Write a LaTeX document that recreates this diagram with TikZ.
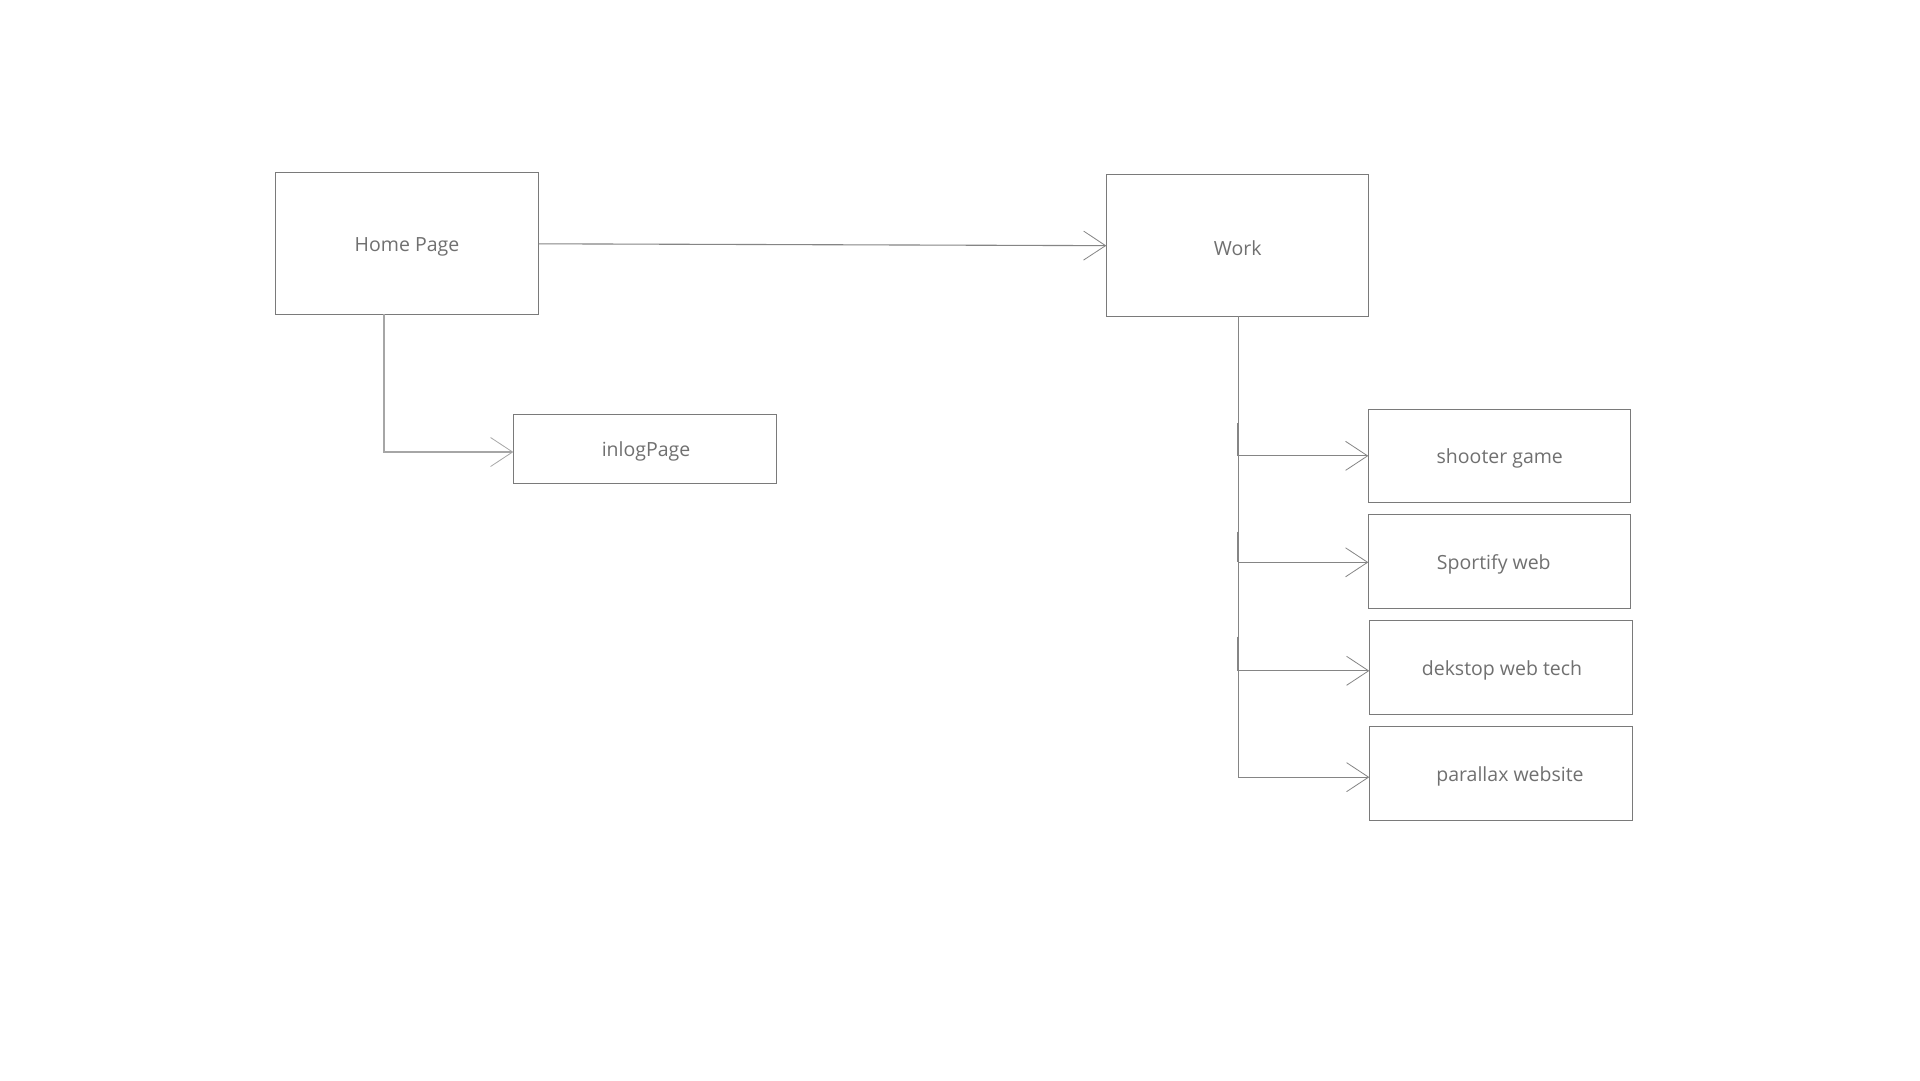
\documentclass[tikz,border=0pt]{standalone}
\usepackage{fontspec}
\setmainfont{Open Sans}
\usetikzlibrary{arrows.meta}
\definecolor{boxc}{HTML}{7A7A7A}
\definecolor{txtc}{HTML}{707070}
\definecolor{linec}{HTML}{858585}
\definecolor{lightc}{HTML}{A6A6A6}
\tikzset{
  pagebox/.style={draw=boxc, line width=1pt, fill=white, inner sep=0pt, anchor=north west},
  lbl/.style={text=txtc, font=\fontsize{19.5}{22}\selectfont, inner sep=0pt},
  conn/.style={draw=linec, line width=1.1pt, -{Straight Barb[length=22pt,width=29pt,line width=0.8pt]}},
  stub/.style={draw=linec, line width=1.1pt}
}
\begin{document}
\begin{tikzpicture}[x=1pt,y=-1pt]
\useasboundingbox[fill=white] (0,0) rectangle (1920,1080);
% boxes
\node[pagebox, minimum width=262.4pt, minimum height=142pt] (home) at (275.3,172.3) {};
\node[pagebox, minimum width=262pt, minimum height=141.7pt] (work) at (1106.3,174.3) {};
\node[pagebox, minimum width=262.4pt, minimum height=69.3pt] (inlog) at (513.3,413.7) {};
\node[pagebox, minimum width=262pt, minimum height=93.3pt] (shoot) at (1368.3,408.7) {};
\node[pagebox, minimum width=262pt, minimum height=94pt] (sport) at (1368.3,514.3) {};
\node[pagebox, minimum width=262.4pt, minimum height=94pt] (desk) at (1369.3,620.3) {};
\node[pagebox, minimum width=262.4pt, minimum height=93.7pt] (para) at (1369.3,726.3) {};
% labels
\node[lbl] (homel) at ([yshift=-3pt]home.center) {Home Page};
\node[lbl] (workl) at ([yshift=-3pt]work.center) {Work};
\node[lbl] (inlogl) at ([xshift=1pt,yshift=-3pt]inlog.center) {inlogPage};
\node[lbl] (shootl) at ([yshift=-3pt]shoot.center) {shooter game};
\node[lbl] (sportl) at ([xshift=-6pt,yshift=-3pt]sport.center) {Sportify web};
\node[lbl] (deskl) at ([xshift=1pt,yshift=-3pt]desk.center) {dekstop web tech};
\node[lbl] (paral) at ([xshift=9pt,yshift=-3pt]para.center) {parallax website};
% connectors
\draw[conn] (home.east) -- (work.west);
\coordinate (hb) at (384,314.3);
\draw[conn, draw=lightc] (hb) |- (inlog.west |- 0,452);
\coordinate (wb) at (1238.5,316);
\draw[conn] (wb) |- (shoot.west);
\draw[conn] (wb) |- ([yshift=-0.5pt]sport.west);
\draw[conn] (wb) |- ([yshift=-3pt]desk.west);
\draw[conn] (wb) |- ([yshift=-3.5pt]para.west);
\coordinate (s1) at (1237.3,423);
\coordinate (s2) at (1237.3,531.7);
\coordinate (s3) at (1237.3,636.7);
\draw[stub] (s1) -- (s1 |- shoot.west);
\draw[stub] (s2) -- ([yshift=-0.5pt]s2 |- sport.west);
\draw[stub] (s3) -- ([yshift=-3pt]s3 |- desk.west);
\end{tikzpicture}
\end{document}
